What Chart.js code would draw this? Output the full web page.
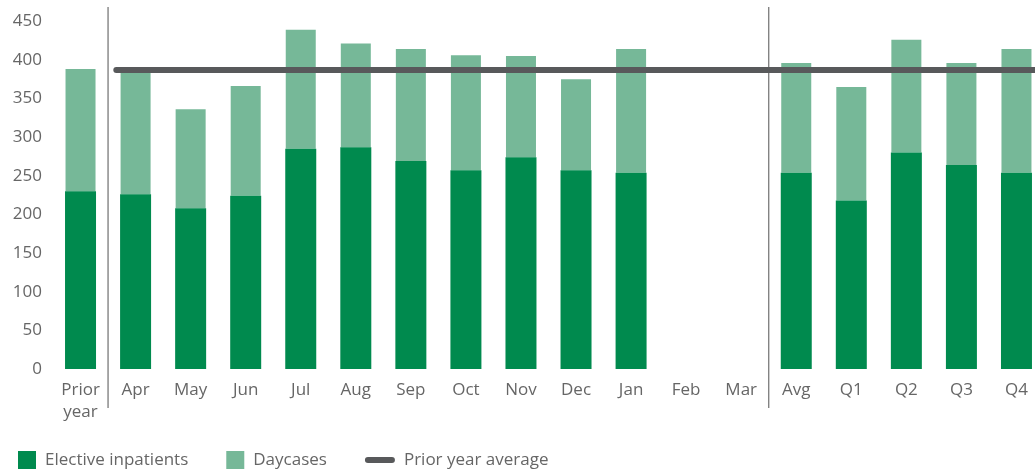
<!DOCTYPE html>
<html>
<head>
<meta charset="utf-8">
<script src="https://cdn.jsdelivr.net/npm/chart.js@4/dist/chart.umd.min.js"></script>
<style>
  html, body { margin: 0; padding: 0; background: #fff; overflow: hidden; }
  #wrap { width: 1044px; height: 473px; }
</style>
</head>
<body>
<div id="wrap"><canvas id="activity-chart" width="1044" height="473"></canvas></div>
<script>
const labels = [['Prior', 'year'], 'Apr', 'May', 'Jun', 'Jul', 'Aug', 'Sep', 'Oct', 'Nov', 'Dec', 'Jan', 'Feb', 'Mar', 'Avg', 'Q1', 'Q2', 'Q3', 'Q4'];
const electiveInpatients = [230, 226, 208, 224, 285, 287, 269, 257, 274, 257, 254, null, null, 254, 218, 280, 264, 254];
const daycases = [158, 161, 128, 142, 154, 134, 145, 149, 131, 118, 160, null, null, 142, 147, 146, 132, 160];
const priorYearAverage = 387;
const averageSpan = [0.65, 17.5]; // category index range the average line covers
const yTicks = [0, 50, 100, 150, 200, 250, 300, 350, 400, 450];
const dividerAfter = [0, 12]; // vertical rules after "Prior year" and after "Mar"

const darkGreen = '#008a4e';
const lightGreen = '#76b898';
const lineGrey = '#58595b';
const textGrey = '#666666';
const fontFamily = '"Open Sans", "Noto Sans", sans-serif';

// thin vertical rules separating prior year / months / summary columns
const dividers = {
  id: 'dividers',
  beforeDatasetsDraw(chart) {
    const x = chart.scales.x;
    const ctx = chart.ctx;
    ctx.save();
    ctx.strokeStyle = '#7a7a7a';
    ctx.lineWidth = 1.3;
    dividerAfter.forEach(i => {
      const px = (x.getPixelForValue(i) + x.getPixelForValue(i + 1)) / 2;
      ctx.beginPath();
      ctx.moveTo(px, 7);
      ctx.lineTo(px, 408);
      ctx.stroke();
    });
    ctx.restore();
  }
};

// legend along the bottom: squares for bars, a thick stroke for the line
const bottomLegend = {
  id: 'bottomLegend',
  afterDraw(chart) {
    const ctx = chart.ctx;
    const y = chart.height - 13;
    let x = 18;
    ctx.save();
    ctx.font = '17px ' + fontFamily;
    ctx.textBaseline = 'middle';
    chart.data.datasets.forEach(ds => {
      if (ds.type === 'line') {
        ctx.strokeStyle = ds.borderColor;
        ctx.lineWidth = 6;
        ctx.lineCap = 'round';
        ctx.beginPath();
        ctx.moveTo(x + 3, y);
        ctx.lineTo(x + 27, y);
        ctx.stroke();
        x += 30 + 9;
      } else {
        ctx.fillStyle = ds.backgroundColor;
        ctx.fillRect(x, y - 9, 18, 18);
        x += 18 + 9;
      }
      ctx.fillStyle = textGrey;
      ctx.fillText(ds.label, x, y);
      x += ctx.measureText(ds.label).width + 38;
    });
    ctx.restore();
  }
};

new Chart(document.getElementById('activity-chart'), {
  type: 'bar',
  data: {
    labels: labels,
    datasets: [
      {
        label: 'Elective inpatients',
        data: electiveInpatients,
        backgroundColor: darkGreen,
        stack: 'activity',
        grouped: false,
        barPercentage: 0.563,
        categoryPercentage: 1,
        order: 2
      },
      {
        label: 'Daycases',
        data: daycases,
        backgroundColor: lightGreen,
        stack: 'activity',
        grouped: false,
        barPercentage: 0.545,
        categoryPercentage: 1,
        order: 2
      },
      {
        type: 'line',
        label: 'Prior year average',
        data: averageSpan.map(v => ({ x: v, y: priorYearAverage })),
        xAxisID: 'xl',
        borderColor: lineGrey,
        backgroundColor: lineGrey,
        borderWidth: 6,
        borderCapStyle: 'round',
        pointRadius: 0,
        fill: false,
        order: 1
      }
    ]
  },
  options: {
    responsive: false,
    animation: false,
    layout: { padding: { top: 20, left: 0, right: 0, bottom: 48 } },
    plugins: {
      legend: { display: false },
      tooltip: { enabled: false }
    },
    scales: {
      x: {
        stacked: true,
        grid: { display: false, drawTicks: false },
        border: { display: false },
        ticks: {
          color: textGrey,
          font: { family: fontFamily, size: 17, lineHeight: 1.3 },
          padding: 10,
          maxRotation: 0,
          autoSkip: false
        },
        afterFit(scale) { scale.height = 56; }
      },
      xl: {
        type: 'linear',
        display: false,
        offset: false,
        bounds: 'data',
        min: -0.5,
        max: labels.length - 0.5,
        grid: { offset: false }
      },
      y: {
        stacked: true,
        min: 0,
        max: 450,
        grid: { display: false, drawTicks: false },
        border: { display: false },
        afterBuildTicks(scale) { scale.ticks = yTicks.map(v => ({ value: v })); },
        ticks: {
          color: textGrey,
          font: { family: fontFamily, size: 17 },
          padding: 11
        },
        afterFit(scale) { scale.width = 53; }
      }
    }
  },
  plugins: [dividers, bottomLegend]
});
</script>
</body>
</html>
